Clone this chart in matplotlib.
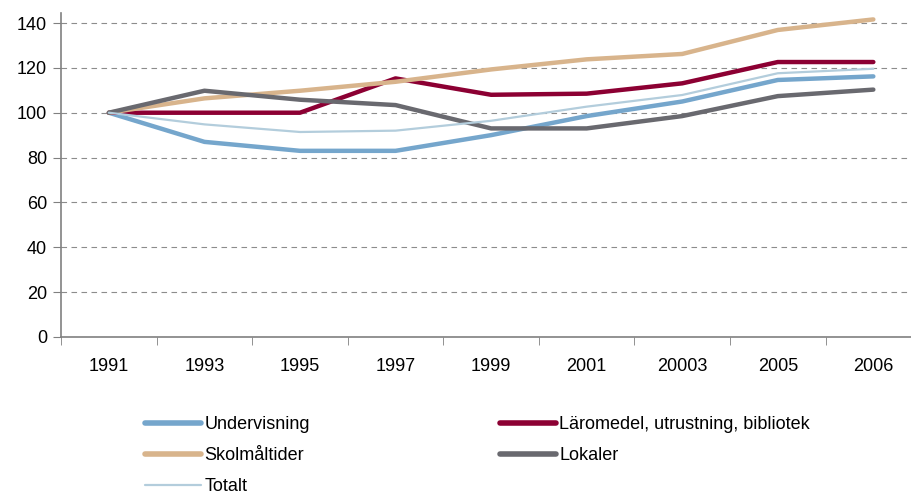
import numpy as np
import matplotlib.pyplot as plt

plt.rcParams['font.family'] = ['Liberation Sans', 'DejaVu Sans']

years = ["1991", "1993", "1995", "1997", "1999", "2001", "20003", "2005", "2006"]
undervisning = [100, 87, 83, 83, 90, 98.5, 105, 114.6, 116.2]
laromedel = [100, 100, 100, 115.3, 108, 108.5, 113.1, 122.6, 122.6]
skolmaltider = [100, 106.4, 109.8, 113.8, 119.3, 123.8, 126.2, 136.9, 141.6]
lokaler = [100, 109.8, 105.8, 103.4, 93, 93, 98.5, 107.4, 110.3]
totalt = [100, 94.8, 91.4, 92, 96.4, 102.7, 107.9, 117.6, 119.6]

fig = plt.figure(figsize=(9.12, 4.97), dpi=100)
ax = fig.add_axes([0.067, 0.322, 0.943, 0.652])
x = np.arange(len(years))

l1, = ax.plot(x, undervisning, color='#75a6cc', lw=3.2, label='Undervisning', solid_capstyle='round')
l2, = ax.plot(x, laromedel, color='#8c0033', lw=3.2, label='Läromedel, utrustning, bibliotek', solid_capstyle='round')
l3, = ax.plot(x, skolmaltider, color='#d8b48c', lw=3.2, label='Skolmåltider', solid_capstyle='round')
l4, = ax.plot(x, lokaler, color='#69696f', lw=3.2, label='Lokaler', solid_capstyle='round')
l5, = ax.plot(x, totalt, color='#b3cddc', lw=1.6, label='Totalt', solid_capstyle='round')

ax.set_xlim(-0.5, 8.5)
ax.set_ylim(0, 144.5)
ax.set_yticks(np.arange(0, 141, 20))
ax.set_xticks(x)
ax.set_xticklabels(years)
ax.set_xticks(np.arange(-0.5, 8.6, 1), minor=True)
ax.tick_params(axis='x', which='major', length=0, pad=15, labelsize=13)
ax.tick_params(axis='x', which='minor', length=6, color='#808080')
ax.tick_params(axis='y', length=6, color='#808080', labelsize=13, pad=4)
ax.grid(axis='y', color='#8c8c8c', ls=(0, (5, 4)), lw=0.8)
ax.set_axisbelow(True)
for s in ['top', 'right']:
    ax.spines[s].set_visible(False)
for s in ['left', 'bottom']:
    ax.spines[s].set_color('#808080')
    ax.spines[s].set_linewidth(1.2)

leg = fig.legend([l1, l3, l5, l2, l4],
                 [l1.get_label(), l3.get_label(), l5.get_label(), l2.get_label(), l4.get_label()],
                 ncol=2, loc='upper left', bbox_to_anchor=(0.159, 0.163), frameon=False,
                 fontsize=13, handlelength=3.1, handletextpad=0.2, columnspacing=10.5,
                 labelspacing=0.78, borderaxespad=0, borderpad=0)
for h in leg.legend_handles:
    if h.get_linewidth() > 2:
        h.set_linewidth(4)

fig.savefig('out.png', dpi=100)
